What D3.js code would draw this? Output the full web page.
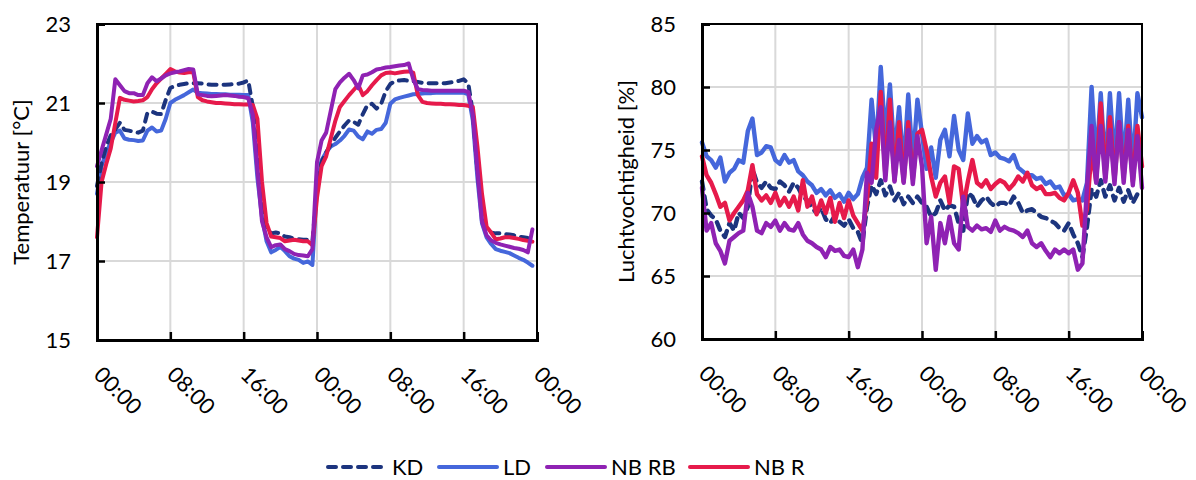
<!DOCTYPE html>
<html>
<head>
<meta charset="utf-8">
<script src="https://cdn.jsdelivr.net/npm/d3@7"></script>
<style>
  html, body { margin: 0; padding: 0; background: #fff; }
  svg text { font-family: Lato, "Open Sans", sans-serif; fill: #000; }
</style>
</head>
<body>
<svg id="chart" width="1196" height="480"></svg>
<script>
// ---------- data ----------
const seriesNames = ["KD", "LD", "NB RB", "NB R"];
const xTickHours = [0, 8, 16, 24, 32, 40, 48];
const xTickLabels = ["00:00", "08:00", "16:00", "00:00", "08:00", "16:00", "00:00"];
const tempTicks = [15, 17, 19, 21, 23];
const humTicks = [60, 65, 70, 75, 80, 85];
const stepHours = 0.5; // sampling interval of the series below

// Temperature [°C], every half hour from 00:00
const tempKD = [
  18.9, 19.48, 19.9, 20.18, 20.33, 20.5, 20.32, 20.3, 20.27, 20.25,
  20.3, 20.75, 20.78, 20.73, 20.72, 21.08, 21.38, 21.43, 21.46, 21.48,
  21.5, 21.5, 21.5, 21.49, 21.47, 21.46, 21.46, 21.46, 21.46, 21.47,
  21.48, 21.49, 21.52, 21.57, 20.9, 19.6, 18.5, 17.85, 17.7, 17.72,
  17.7, 17.62, 17.6, 17.57, 17.55, 17.54, 17.54, 17.5, 18.8, 19.5,
  19.75, 19.95, 20.12, 20.28, 20.43, 20.56, 20.52, 20.45, 20.72, 20.95,
  20.98, 20.86, 20.98, 21.3, 21.48, 21.55, 21.57, 21.58, 21.56, 21.55,
  21.53, 21.51, 21.5, 21.5, 21.5, 21.5, 21.5, 21.52, 21.53, 21.56,
  21.6, 21.5, 20.75, 19.3, 18.2, 17.8, 17.72, 17.7, 17.7, 17.68,
  17.67, 17.65, 17.62, 17.6, 17.58, 17.57
];
const tempLD = [
  18.7, 19.4, 19.75, 20.0, 20.25, 20.3, 20.1, 20.07, 20.06, 20.04,
  20.05, 20.3, 20.38, 20.28, 20.3, 20.6, 21.0, 21.08, 21.14, 21.2,
  21.27, 21.34, 21.26, 21.25, 21.24, 21.23, 21.23, 21.22, 21.22, 21.21,
  21.21, 21.21, 21.2, 21.2, 20.5, 19.1, 18.1, 17.5, 17.22, 17.28,
  17.36, 17.25, 17.12, 17.06, 17.03, 16.95, 16.99, 16.9, 18.9, 19.55,
  19.75, 19.9, 19.96, 20.05, 20.17, 20.33, 20.3, 20.15, 20.08, 20.28,
  20.22, 20.32, 20.34, 20.5, 20.98, 21.09, 21.13, 21.16, 21.19, 21.22,
  21.23, 21.24, 21.25, 21.25, 21.26, 21.26, 21.26, 21.26, 21.26, 21.26,
  21.26, 21.22, 20.55, 19.1, 17.95, 17.6, 17.43, 17.3, 17.26, 17.23,
  17.2, 17.14, 17.08, 17.03, 16.96, 16.88
];
const tempNBRB = [
  19.4, 19.8, 20.2, 20.6, 21.6, 21.45, 21.3, 21.25, 21.25, 21.2,
  21.2, 21.5, 21.65, 21.55, 21.62, 21.7, 21.75, 21.78, 21.8, 21.83,
  21.86, 21.85, 21.22, 21.2, 21.18, 21.17, 21.18, 21.19, 21.2, 21.19,
  21.18, 21.16, 21.15, 21.12, 20.7, 19.3, 18.0, 17.6, 17.35, 17.4,
  17.42, 17.3, 17.25, 17.18, 17.15, 17.14, 17.12, 17.3, 19.5, 20.05,
  20.25, 20.8, 21.35, 21.52, 21.64, 21.74, 21.58, 21.37, 21.7, 21.72,
  21.78, 21.85, 21.87, 21.9, 21.91, 21.93, 21.95, 21.96, 22.0, 21.6,
  21.35, 21.33, 21.32, 21.31, 21.31, 21.31, 21.31, 21.31, 21.31, 21.31,
  21.31, 21.28, 20.7, 19.3, 18.0, 17.65, 17.52, 17.46, 17.42, 17.39,
  17.36, 17.33, 17.31, 17.28, 17.22, 17.8
];
const tempNBR = [
  17.6, 19.0, 19.45, 19.85, 20.5, 21.13, 21.08, 21.06, 21.04, 21.05,
  21.07, 21.15, 21.35, 21.5, 21.62, 21.74, 21.86, 21.8, 21.77, 21.76,
  21.78, 21.78, 21.15, 21.07, 21.04, 21.02, 21.0, 21.0, 20.99, 20.98,
  20.97, 20.97, 20.96, 20.96, 20.95, 20.6, 19.0, 17.96, 17.62, 17.6,
  17.58, 17.5, 17.52, 17.54, 17.52, 17.5, 17.5, 17.4, 18.6, 19.4,
  19.65, 20.1, 20.55, 20.9, 21.05, 21.2, 21.33, 21.46, 21.2, 21.3,
  21.45, 21.58, 21.7, 21.76, 21.77, 21.75, 21.77, 21.79, 21.8, 21.77,
  21.2, 21.03, 21.0, 20.99, 20.98, 20.98, 20.97, 20.97, 20.96, 20.95,
  20.95, 20.93, 20.9, 19.9, 18.7, 17.87, 17.72, 17.55, 17.57, 17.6,
  17.6, 17.58, 17.56, 17.53, 17.51, 17.49
];

// Relative humidity [%], every half hour from 00:00
const humKD = [
  72.5, 70.3, 69.8, 69.5, 68.6, 68.1, 69.2, 68.6, 70.0, 69.6,
  70.5, 73.5, 72.4, 72.0, 72.5, 72.0, 71.9, 72.5, 72.2, 71.7,
  72.4, 72.0, 71.3, 71.0, 70.4, 70.0, 70.4, 69.5, 69.2, 69.8,
  69.3, 69.0, 69.5, 68.8, 68.5, 67.6, 70.5, 72.2, 71.5, 72.6,
  71.4, 72.1, 71.0, 71.6, 70.7, 71.3, 70.8, 71.3, 70.8, 70.5,
  69.7, 70.0, 71.0, 70.2, 70.6, 70.5, 69.2, 68.6, 71.6, 71.3,
  70.5, 71.0, 71.3, 70.8, 70.5, 70.8, 70.8, 70.6, 71.3, 70.8,
  70.0, 70.2, 70.3, 70.0, 69.7, 69.6, 69.4, 69.2, 68.8, 68.6,
  69.2, 68.3, 67.6, 66.5, 68.9, 71.9, 71.3, 72.6, 71.3, 72.2,
  71.0, 72.0, 70.9, 71.8, 70.8, 71.5, 71.3
];
const humLD = [
  75.6, 74.5, 74.2, 73.6, 74.4, 72.5, 73.2, 73.5, 74.2, 74.0,
  76.5, 77.5, 74.6, 74.8, 75.3, 75.2, 74.2, 73.9, 74.6, 74.0,
  74.2, 73.3, 73.0, 72.5, 72.2, 71.6, 71.9, 71.4, 71.8, 71.2,
  71.5, 70.9, 71.6, 71.1, 71.5, 72.8, 73.6, 79.0, 75.0, 81.6,
  76.0, 80.2, 74.5, 78.4, 73.5, 79.4, 74.0, 79.0, 76.3, 73.5,
  75.2, 72.8, 75.8, 76.6, 74.5, 77.7, 75.0, 74.2, 77.9, 75.5,
  76.1, 75.6, 75.8, 74.6, 74.8, 74.4, 74.3, 74.1, 74.6, 73.6,
  73.3, 73.0, 73.0, 72.7, 72.8, 72.3, 72.5, 72.0, 72.1, 71.4,
  71.5, 71.0, 71.1, 71.0, 72.4, 80.0, 74.0, 79.5, 73.5, 79.5,
  74.0, 79.5, 73.8, 79.0, 73.5, 79.5, 77.6
];
const humNBRB = [
  72.0, 68.6, 69.2, 67.6, 67.0, 66.0, 67.8, 68.1, 68.4, 68.6,
  71.6, 70.5, 68.6, 68.4, 69.2, 68.9, 69.4, 68.6, 69.2, 68.7,
  68.6, 69.2, 68.3, 67.8, 67.6, 67.3, 67.1, 66.5, 67.3, 67.0,
  67.1, 66.6, 66.5, 67.1, 65.7, 67.1, 73.2, 72.4, 76.6, 78.4,
  72.6, 77.2, 72.5, 75.8, 72.4, 76.6, 72.3, 76.1, 73.7, 67.6,
  69.7, 65.5, 69.2, 67.6, 69.7, 67.6, 67.1, 71.3, 68.9, 68.6,
  69.0, 68.7, 68.8, 68.5, 69.4, 68.6, 68.9, 68.7, 68.6, 68.4,
  68.1, 68.6, 67.6, 67.3, 67.6, 67.0, 66.5, 67.1, 66.8, 67.1,
  66.8, 67.1, 65.5, 66.0, 72.0, 76.9, 72.4, 76.9, 72.5, 76.6,
  72.3, 77.2, 72.4, 76.6, 72.2, 76.1, 72.0
];
const humNBR = [
  74.5, 73.0, 72.4, 71.5, 70.5, 70.8, 69.4, 70.0, 70.5, 71.0,
  71.8, 73.8, 71.5, 71.0, 71.4, 70.8, 71.6, 70.6, 71.2, 70.5,
  71.3, 70.2, 72.6, 70.5, 71.3, 69.9, 71.0, 70.0, 71.2, 69.3,
  70.8, 69.6, 71.0, 69.8, 69.2, 68.6, 71.0, 75.5, 72.8, 79.6,
  73.0, 79.0, 72.6, 77.2, 72.5, 77.2, 72.7, 76.3, 76.6, 75.0,
  72.9, 71.3, 72.4, 72.9, 70.8, 73.7, 73.5, 70.5, 72.5, 74.2,
  72.4, 72.1, 72.6, 71.9, 72.3, 72.6, 72.4, 71.9, 72.3, 72.9,
  72.5, 73.2, 72.2, 71.9, 72.1, 71.5, 71.5, 71.6, 71.2, 71.0,
  71.6, 72.6, 71.6, 69.0, 70.3, 75.0, 72.5, 78.7, 72.8, 77.6,
  72.6, 77.2, 72.9, 76.9, 72.5, 76.9, 73.7
];

// ---------- styling ----------
const colors = { "KD": "#1c347e", "LD": "#4567db", "NB RB": "#8f22b3", "NB R": "#e61a4b" };
const dashes = { "KD": "8,7", "LD": null, "NB RB": null, "NB R": null };
const drawOrder = ["LD", "KD", "NB R", "NB RB"];
const FONT = 22;

const svg = d3.select("#chart");

function panel(opts) {
  const { left, right, top, bottom, yDomain, yTicks, title, titleX, series, lineW } = opts;
  const x = d3.scaleLinear().domain([0, 48]).range([left, right]);
  const y = d3.scaleLinear().domain(yDomain).range([bottom, top]);
  const g = svg.append("g");

  // grid
  g.append("g").selectAll("line").data(yTicks).join("line")
    .attr("x1", left).attr("x2", right)
    .attr("y1", d => y(d)).attr("y2", d => y(d))
    .attr("stroke", "#d9d9d9").attr("stroke-width", 2);
  g.append("g").selectAll("line").data(xTickHours).join("line")
    .attr("x1", d => x(d)).attr("x2", d => x(d))
    .attr("y1", top).attr("y2", bottom)
    .attr("stroke", "#d9d9d9").attr("stroke-width", 2);

  // series
  const line = d3.line()
    .x((d, i) => x(i * stepHours))
    .y(d => y(d))
    .curve(d3.curveLinear);
  drawOrder.forEach(name => {
    g.append("path")
      .datum(series[name])
      .attr("d", line)
      .attr("fill", "none")
      .attr("stroke", colors[name])
      .attr("stroke-width", lineW)
      .attr("stroke-linejoin", "round")
      .attr("stroke-linecap", "round")
      .attr("stroke-dasharray", dashes[name]);
  });

  // frame
  g.append("rect")
    .attr("x", left).attr("y", top)
    .attr("width", right - left).attr("height", bottom - top)
    .attr("fill", "none").attr("stroke", "#000").attr("stroke-width", 2);

  // y axis
  const yAxis = d3.axisLeft(y).tickValues(yTicks).tickSize(-8).tickPadding(26).tickFormat(d3.format("d"));
  const ya = g.append("g").attr("transform", `translate(${left},0)`).call(yAxis);
  ya.select(".domain").attr("stroke", "#000").attr("stroke-width", 3);
  ya.selectAll(".tick line").attr("stroke", "#000").attr("stroke-width", 2.5);
  ya.selectAll(".tick text").attr("font-size", FONT).attr("font-family", "Lato").attr("fill", "#000");

  // x axis
  const xAxis = d3.axisBottom(x).tickValues(xTickHours).tickSize(-8)
    .tickFormat((d, i) => xTickLabels[i]);
  const xa = g.append("g").attr("transform", `translate(0,${bottom})`).call(xAxis);
  xa.select(".domain").attr("stroke", "#000").attr("stroke-width", 3);
  xa.selectAll(".tick line").attr("stroke", "#000").attr("stroke-width", 2.5);
  xa.selectAll(".tick text")
    .attr("x", null).attr("y", null).attr("dy", null)
    .attr("text-anchor", "start")
    .attr("transform", "translate(-5,36) rotate(45)")
    .attr("font-size", FONT).attr("font-family", "Lato").attr("fill", "#000");

  // title
  svg.append("text")
    .attr("transform", `translate(${titleX},${(top + bottom) / 2}) rotate(-90)`)
    .attr("text-anchor", "middle")
    .attr("font-size", FONT)
    .text(title);
}

panel({
  left: 97, right: 537, top: 24, bottom: 340,
  yDomain: [15, 23], yTicks: tempTicks,
  title: "Temperatuur [°C]", titleX: 29, lineW: 4,
  series: { "KD": tempKD, "LD": tempLD, "NB RB": tempNBRB, "NB R": tempNBR }
});
panel({
  left: 702, right: 1142, top: 24, bottom: 339,
  yDomain: [60, 85], yTicks: humTicks,
  title: "Luchtvochtigheid [%]", titleX: 634, lineW: 4.4,
  series: { "KD": humKD, "LD": humLD, "NB RB": humNBRB, "NB R": humNBR }
});

// legend
const legendY = 467;
const legendStarts = [326, 437, 545, 688];
const legend = svg.append("g");
seriesNames.forEach((name, i) => {
  const it = legend.append("g").attr("transform", `translate(${legendStarts[i]},${legendY})`);
  it.append("line")
    .attr("x1", 2).attr("x2", 60).attr("y1", 0).attr("y2", 0)
    .attr("stroke", colors[name]).attr("stroke-width", 4)
    .attr("stroke-linecap", "round")
    .attr("stroke-dasharray", dashes[name]);
  it.append("text").attr("x", 66).attr("y", 0).attr("dy", "0.36em")
    .attr("font-size", FONT).text(name);
});
</script>
</body>
</html>
